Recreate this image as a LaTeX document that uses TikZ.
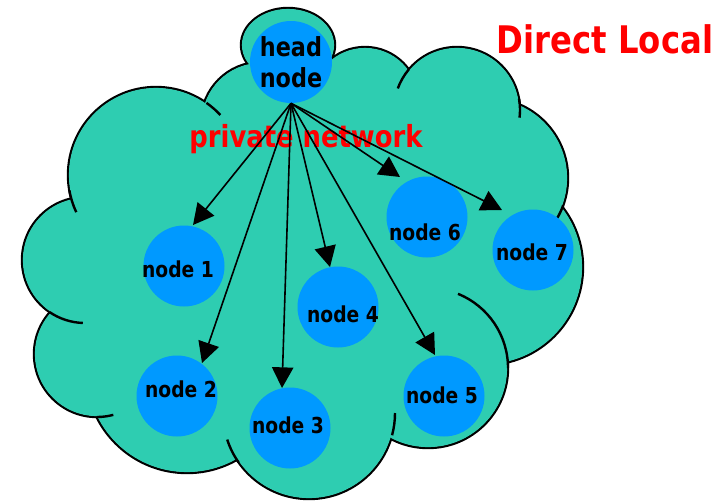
\documentclass[tikz,border=0pt]{standalone}
\usepackage{fontspec}
\setmainfont{DejaVu Sans}[FakeStretch=0.85]
\usetikzlibrary{arrows.meta}
\definecolor{cloudgreen}{RGB}{46,205,177}
\definecolor{nodeblue}{RGB}{0,153,255}
\definecolor{labelred}{RGB}{255,0,0}

\begin{document}
\begin{tikzpicture}[x=0.75pt, y=-0.75pt,
    rim/.style={line width=1.8pt},
    pc/.style={circle, fill=nodeblue, minimum size=60.75pt, inner sep=0pt},
    lbl/.style={anchor=base, font=\bfseries\fontsize{16.5}{20}\selectfont},
    link/.style={line width=1.2pt, -{Triangle[length=15.5pt, width=16pt]}}]
\useasboundingbox (0,0) rectangle (727,500);
% cloud lobes: outline, fill, then the creases
\foreach \x/\y/\r in {156/175/66pt, 85/260/47.25pt, 97/354/47.25pt, 187/372/75.75pt, 309/413/64.5pt, 428/368/60pt, 485/267/73.5pt, 488/178/60pt, 457/110/47.25pt, 365/101/40.5pt, 261/122/45pt}
  \draw[rim] (\x,\y) circle[radius=\r];
\draw[rim] (288,45) ellipse[x radius=35.25pt, y radius=27.75pt];
\foreach \x/\y/\r in {156/175/66pt, 85/260/47.25pt, 97/354/47.25pt, 187/372/75.75pt, 309/413/64.5pt, 428/368/60pt, 485/267/73.5pt, 488/178/60pt, 457/110/47.25pt, 365/101/40.5pt, 261/122/45pt}
  \fill[cloudgreen] (\x,\y) circle[radius=\r-0.7pt];
\fill[cloudgreen] (288,45) ellipse[x radius=34.55pt, y radius=27.05pt];
\fill[cloudgreen] (156,175) -- (261,122) -- (288,45) -- (365,101) -- (457,110) -- (488,178) -- (485,267)
  -- (428,368) -- (309,413) -- (187,372) -- (97,354) -- (85,260) -- cycle;
\draw[rim] ([shift={(190:66pt)}]156,175) arc[start angle=190, end angle=205, radius=66pt];
\draw[rim] ([shift={(55:66pt)}]156,175) arc[start angle=55, end angle=43, radius=66pt];
\draw[rim] ([shift={(236:47.25pt)}]85,260) arc[start angle=236, end angle=268, radius=47.25pt];
\draw[rim] ([shift={(270:47.25pt)}]97,354) arc[start angle=270, end angle=285, radius=47.25pt];
\draw[rim] ([shift={(215:64.5pt)}]309,413) arc[start angle=215, end angle=198, radius=64.5pt];
\draw[rim] ([shift={(-15:64.5pt)}]309,413) arc[start angle=-15, end angle=0, radius=64.5pt];
\draw[rim] ([shift={(0:60pt)}]428,368) arc[start angle=0, end angle=68, radius=60pt];
\draw[rim] ([shift={(10:47.25pt)}]457,110) arc[start angle=10, end angle=-7, radius=47.25pt];
\draw[rim] ([shift={(140:47.25pt)}]457,110) arc[start angle=140, end angle=160, radius=47.25pt];
\draw[rim] ([shift={(-20:60pt)}]488,178) arc[start angle=-20, end angle=-30, radius=60pt];

% machines
\node[pc, minimum size=61.5pt, align=center, font=\bfseries\fontsize{19.7}{23.25}\selectfont] (h) at (291,62) {head\\node};
\node[pc] (n1) at (184,266) {};
\node[pc] (n2) at (177,396) {};
\node[pc] (n3) at (290,428) {};
\node[pc] (n4) at (338,307) {};
\node[pc] (n5) at (444,396) {};
\node[pc] (n6) at (427,217) {};
\node[pc] (n7) at (533,250) {};
\node[lbl] (l1) at (178,277) {node 1};
\node[lbl] (l2) at (181,397) {node 2};
\node[lbl] (l3) at (288,433) {node 3};
\node[lbl] (l4) at (343,322) {node 4};
\node[lbl] (l5) at (442,403) {node 5};
\node[lbl] (l6) at (425,240) {node 6};
\node[lbl] (l7) at (532,260) {node 7};
\node[anchor=base, text=labelred, font=\bfseries\fontsize{22.8}{27}\selectfont] (net) at (306,147) {private network};
\node[anchor=base, text=labelred, font=\bfseries\fontsize{28.5}{34}\selectfont] (title) at (605,53) {Direct Local};

% links from the head node
\coordinate (t1) at (193,225); \coordinate (t2) at (202,363); \coordinate (t3) at (282,388);
\coordinate (t4) at (330,267); \coordinate (t5) at (435,355); \coordinate (t6) at (400,177);
\coordinate (t7) at (502,210);
\foreach \i in {1,...,7}
  \draw[link] (h.south) -- (t\i);
\end{tikzpicture}
\end{document}
